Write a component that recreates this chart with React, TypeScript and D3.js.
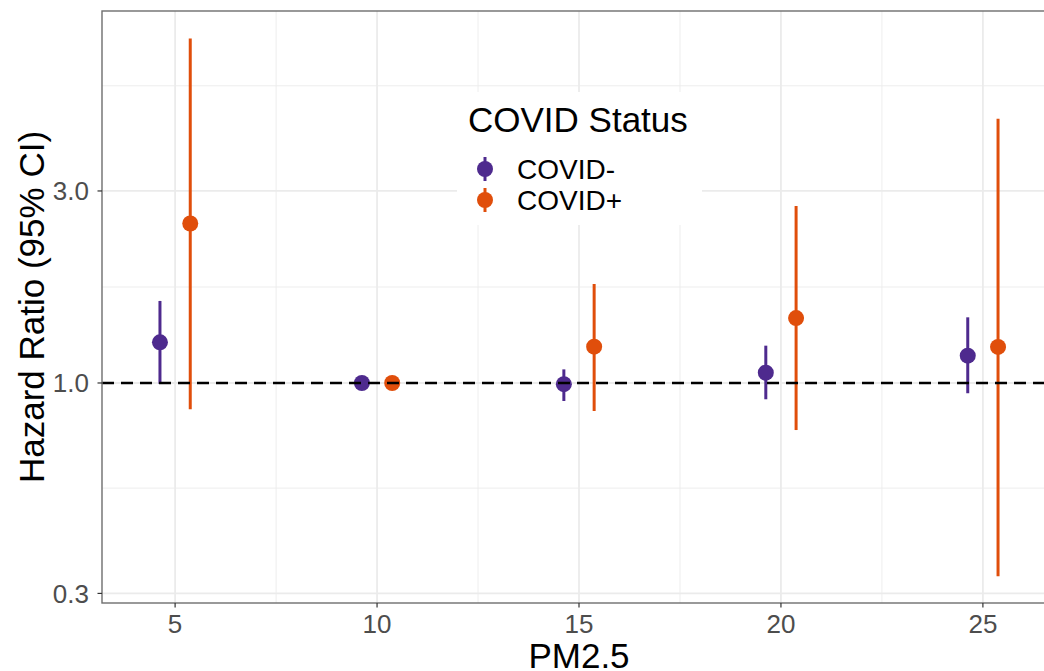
import React from "react";
import * as d3 from "d3";

// PM2.5 levels (x) and hazard ratios per COVID status
const pmLevels = [5, 10, 15, 20, 25];
const negHR = [1.262, 1.0, 0.993, 1.061, 1.169];
const negLo = [0.995, 1.0, 0.902, 0.911, 0.943];
const negHi = [1.599, 1.0, 1.081, 1.238, 1.456];
const posHR = [2.49, 1.0, 1.231, 1.45, 1.229];
const posLo = [0.86, 1.0, 0.852, 0.764, 0.331];
const posHi = [7.18, 1.0, 1.762, 2.753, 4.536];

const statusNames = ["COVID-", "COVID+"];
const statusColors = ["#4e2a8e", "#e04e0b"];

const yTicks = [0.3, 1.0, 3.0];
const yMinor = [0.548, 1.732, 5.477];
const xMinor = [7.5, 12.5, 17.5, 22.5];

const W = 1044;
const H = 671;
const panel = { left: 102, top: 11, right: 1056, bottom: 603 };
const dodge = 0.375;
const font = "'Liberation Sans', Arial, Helvetica, sans-serif";

const App = () => {
  const x = d3.scaleLinear().domain([3.19, 26.81]).range([panel.left, panel.right]);
  const y = d3.scaleLog().domain([0.284, 8.4]).range([panel.bottom, panel.top]);

  const series = [
    { name: statusNames[0], color: statusColors[0], off: -dodge, hr: negHR, lo: negLo, hi: negHi },
    { name: statusNames[1], color: statusColors[1], off: dodge, hr: posHR, lo: posLo, hi: posHi },
  ];

  return (
    <svg width={W} height={H} style={{ position: "absolute", left: 0, top: 0 }} fontFamily={font}>
      <rect width={W} height={H} fill="#fff" />
      <defs>
        <clipPath id="panel">
          <rect x={panel.left} y={panel.top} width={panel.right - panel.left} height={panel.bottom - panel.top} />
        </clipPath>
      </defs>

      <g clipPath="url(#panel)">
        {/* minor grid */}
        {xMinor.map(v => (
          <line key={"xm" + v} x1={x(v)} x2={x(v)} y1={panel.top} y2={panel.bottom} stroke="#ebebeb" strokeWidth={0.9} />
        ))}
        {yMinor.map(v => (
          <line key={"ym" + v} x1={panel.left} x2={panel.right} y1={y(v)} y2={y(v)} stroke="#ebebeb" strokeWidth={0.9} />
        ))}
        {/* major grid */}
        {pmLevels.map(v => (
          <line key={"xg" + v} x1={x(v)} x2={x(v)} y1={panel.top} y2={panel.bottom} stroke="#ebebeb" strokeWidth={1.8} />
        ))}
        {yTicks.map(v => (
          <line key={"yg" + v} x1={panel.left} x2={panel.right} y1={y(v)} y2={y(v)} stroke="#ebebeb" strokeWidth={1.8} />
        ))}

        {/* legend background sits inside the panel, over the grid */}
        <rect x={457} y={92} width={245} height={133} fill="#fff" />

        {/* point ranges */}
        {series.map(s => (
          <g key={s.name}>
            {pmLevels.map((p, i) => (
              <g key={p}>
                <line x1={x(p + s.off)} x2={x(p + s.off)} y1={y(s.lo[i])} y2={y(s.hi[i])} stroke={s.color} strokeWidth={3} />
                <circle cx={x(p + s.off)} cy={y(s.hr[i])} r={8} fill={s.color} />
              </g>
            ))}
          </g>
        ))}

        {/* reference line at HR = 1 */}
        <line x1={panel.left} x2={panel.right} y1={y(1)} y2={y(1)} stroke="#000" strokeWidth={2.6} strokeDasharray="12,7" />
      </g>

      {/* panel border */}
      <rect x={panel.left} y={panel.top} width={panel.right - panel.left} height={panel.bottom - panel.top} fill="none" stroke="#6e6e6e" strokeWidth={1.4} />

      {/* y axis */}
      {yTicks.map(v => (
        <g key={"yt" + v}>
          <line x1={panel.left - 4.5} x2={panel.left} y1={y(v)} y2={y(v)} stroke="#333" strokeWidth={1.2} />
          <text x={panel.left - 13} y={y(v)} dy="0.36em" textAnchor="end" fontSize={26} fill="#4d4d4d">
            {d3.format(".1f")(v)}
          </text>
        </g>
      ))}

      {/* x axis */}
      {pmLevels.map(v => (
        <g key={"xt" + v}>
          <line x1={x(v)} x2={x(v)} y1={panel.bottom} y2={panel.bottom + 4.5} stroke="#333" strokeWidth={1.2} />
          <text x={x(v)} y={633} textAnchor="middle" fontSize={26} fill="#4d4d4d">
            {v}
          </text>
        </g>
      ))}

      {/* axis titles */}
      <text x={(panel.left + panel.right) / 2} y={668} textAnchor="middle" fontSize={35} fill="#000">
        PM2.5
      </text>
      <text transform={`translate(44,${(panel.top + panel.bottom) / 2}) rotate(-90)`} textAnchor="middle" fontSize={35} fill="#000">
        Hazard Ratio (95% CI)
      </text>

      {/* legend */}
      <text x={468} y={132} fontSize={35} fill="#000">COVID Status</text>
      {series.map((s, i) => (
        <g key={"lg" + s.name} transform={`translate(485,${169 + i * 31})`}>
          <line x1={0} x2={0} y1={-12} y2={12} stroke={s.color} strokeWidth={3} />
          <circle r={8} fill={s.color} />
          <text x={32} dy="0.36em" fontSize={28} fill="#000">{s.name}</text>
        </g>
      ))}
    </svg>
  );
};

export default App;
